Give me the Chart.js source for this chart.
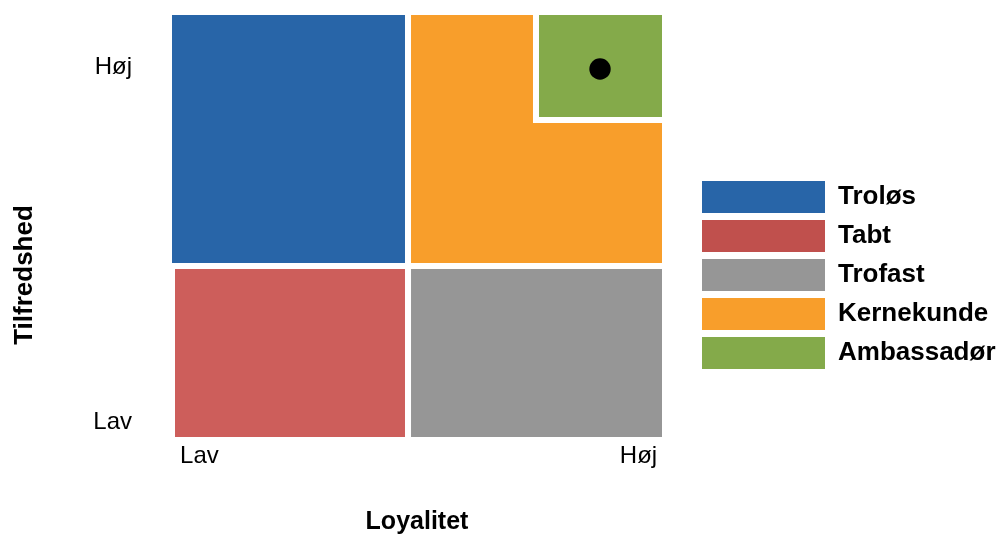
<!DOCTYPE html>
<html>
<head>
<meta charset="utf-8">
<script src="https://cdn.jsdelivr.net/npm/chart.js@4.4.1/dist/chart.umd.min.js"></script>
<style>
  html, body { margin: 0; padding: 0; background: #ffffff; }
  #wrap { width: 1001px; height: 535px; position: relative; }
</style>
</head>
<body>
<div id="wrap"><canvas id="c"></canvas></div>
<script>
// ---- Data (axis units 0..100 on both axes) ----
const segmentNames  = ['Troløs', 'Tabt', 'Trofast', 'Kernekunde', 'Ambassadør'];
const segmentColors = ['#2865A8', '#CD5E5B', '#969696', '#F89E2B', '#84AA4A'];
const legendColors  = ['#2865A8', '#C0504D', '#969696', '#F89E2B', '#84AA4A'];

const xTickValues = [5.6, 95.2];
const xTickLabels = ['Lav', 'Høj'];
const yTickValues = [3.4, 87.7];
const yTickLabels = ['Lav', 'Høj'];

// Each segment: upper outline (x, y) filled down to a base value
const trolosX = [0, 47.55];          const trolosY = [100, 100];                 const trolosBase = 41.23;
const tabtX = [0.6, 47.55];          const tabtY = [39.81, 39.81];               const tabtBase = 0;
const trofastX = [48.78, 100];       const trofastY = [39.81, 39.81];            const trofastBase = 0;
const kernekundeX = [48.78, 73.67, 73.67, 100];
const kernekundeY = [100, 100, 74.41, 74.41];                                    const kernekundeBase = 41.23;
const ambassadorX = [74.9, 100];     const ambassadorY = [100, 100];             const ambassadorBase = 75.83;

const pointX = [87.35];
const pointY = [87.2];

const FONT = "'Liberation Sans', Arial, Helvetica, sans-serif";

function pts(xs, ys) { return xs.map((x, i) => ({ x: x, y: ys[i] })); }

const segments = [
  { x: trolosX, y: trolosY, base: trolosBase },
  { x: tabtX, y: tabtY, base: tabtBase },
  { x: trofastX, y: trofastY, base: trofastBase },
  { x: kernekundeX, y: kernekundeY, base: kernekundeBase },
  { x: ambassadorX, y: ambassadorY, base: ambassadorBase }
];

const datasets = segments.map((s, i) => ({
  type: 'line',
  label: segmentNames[i],
  data: pts(s.x, s.y),
  fill: { value: s.base },
  backgroundColor: segmentColors[i],
  borderColor: 'rgba(0,0,0,0)',
  borderWidth: 0,
  pointRadius: 0,
  pointHoverRadius: 0,
  tension: 0,
  order: 1
}));

datasets.push({
  type: 'scatter',
  label: 'punkt',
  data: pts(pointX, pointY),
  backgroundColor: '#000000',
  borderColor: '#000000',
  borderWidth: 0,
  pointRadius: 10.7,
  pointHoverRadius: 10.7,
  order: 0
});

function noPad(s) { s.paddingTop = 0; s.paddingBottom = 0; s.paddingLeft = 0; s.paddingRight = 0; }

new Chart(document.getElementById('c'), {
  type: 'scatter',
  data: { datasets: datasets },
  options: {
    responsive: true,
    maintainAspectRatio: false,
    animation: false,
    events: [],
    layout: { padding: { top: 15, right: 2.5, bottom: 0, left: 0 } },
    scales: {
      x: {
        type: 'linear', min: 0, max: 100,
        grid: { display: false, drawTicks: false },
        border: { display: false },
        afterBuildTicks: (s) => { s.ticks = xTickValues.map(v => ({ value: v })); },
        afterFit: (s) => { s.height = 98; noPad(s); },
        ticks: {
          autoSkip: false, maxRotation: 0, padding: 5,
          color: '#000000',
          font: { family: FONT, size: 24 },
          callback: (v, i) => xTickLabels[i]
        },
        title: {
          display: true, text: 'Loyalitet', color: '#000000',
          font: { family: FONT, size: 25, weight: 'bold', lineHeight: 1 },
          padding: { top: 0, bottom: 0 }
        }
      },
      y: {
        type: 'linear', min: 0, max: 100,
        grid: { display: false, drawTicks: false },
        border: { display: false },
        afterBuildTicks: (s) => { s.ticks = yTickValues.map(v => ({ value: v })); },
        afterFit: (s) => { s.width = 126; noPad(s); },
        ticks: {
          autoSkip: false, padding: 40,
          color: '#000000',
          font: { family: FONT, size: 24 },
          callback: (v, i) => yTickLabels[i]
        }
      },
      y2: {
        type: 'linear', position: 'right', display: true,
        grid: { display: false, drawTicks: false },
        border: { display: false },
        ticks: { display: false },
        afterFit: (s) => { s.width = 33; noPad(s); }
      }
    },
    plugins: {
      tooltip: { enabled: false },
      title: {
        display: true, text: 'Tilfredshed', position: 'left', color: '#000000',
        font: { family: FONT, size: 26, weight: 'bold', lineHeight: 1.2 },
        padding: { top: 9, bottom: 5.8 }
      },
      legend: {
        display: true, position: 'right', align: 'center', maxWidth: 303.5,
        labels: {
          boxWidth: 123, boxHeight: 32, padding: 7,
          color: '#000000',
          font: { family: FONT, size: 26, weight: 'bold' },
          filter: (item) => item.datasetIndex < segmentNames.length,
          generateLabels: (chart) => {
            const items = Chart.defaults.plugins.legend.labels.generateLabels(chart);
            items.forEach(it => {
              if (it.datasetIndex < legendColors.length) {
                it.fillStyle = legendColors[it.datasetIndex];
              }
              it.strokeStyle = 'rgba(0,0,0,0)';
              it.lineWidth = 0;
            });
            return items;
          }
        }
      }
    }
  }
});
</script>
</body>
</html>
